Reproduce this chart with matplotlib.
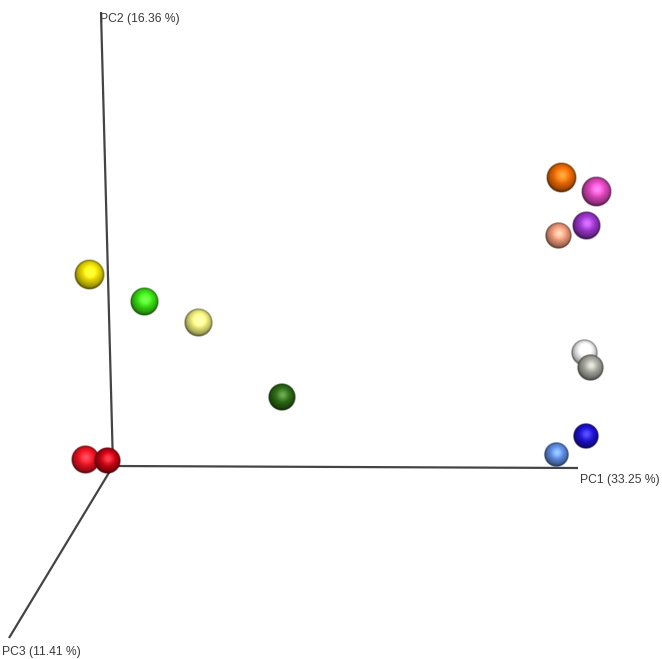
import numpy as np
import matplotlib
matplotlib.use("Agg")
import matplotlib.pyplot as plt
from matplotlib.colors import to_rgb

# Projected sample positions (screen coordinates)
names = ["yellow", "green", "lightyellow", "darkgreen", "red1", "red2",
         "orange", "pink", "purple", "salmon", "white", "gray", "blue", "lightblue"]
px = [89, 144, 198, 282, 85, 107, 561, 596, 586, 558, 584, 590, 586, 556]
py = [275, 302, 323, 397, 460, 461, 178, 192, 226, 236, 353, 368, 436, 455]
radius = [15, 14, 14, 13.5, 14, 13, 15, 15, 14, 13, 13, 13, 12.5, 12]
colors = ["#ecdc00", "#38e010", "#f2f07c", "#2b6a12", "#ee1020", "#c80010",
          "#ee6a00", "#dd44bb", "#9a33cc", "#f09a7a", "#f6f6f6", "#a4a49c",
          "#1c10d0", "#5a8ae0"]

# Axes lines: origin and end points
origin = (113, 466)
pc1_end = (578, 468)
pc2_end = (101, 12)
pc3_end = (9, 638)
axis_labels = ["PC1 (33.25 %)", "PC2 (16.36 %)", "PC3 (11.41 %)"]

fig = plt.figure(figsize=(6.62, 6.59), dpi=100)
ax = fig.add_axes([0, 0, 1, 1])
ax.set_xlim(0, 662)
ax.set_ylim(659, 0)
ax.axis("off")

lc = "#444444"
for end in (pc1_end, pc2_end, pc3_end):
    ax.plot([origin[0], end[0]], [origin[1], end[1]], color=lc, lw=1.6,
            solid_capstyle="butt", zorder=1)

fam = ["Liberation Sans", "DejaVu Sans"]
fs = 8.7
ax.text(pc1_end[0] + 2, pc1_end[1] + 12, axis_labels[0], fontsize=fs,
        color="#3a3a3a", ha="left", va="center", family=fam)
ax.text(pc2_end[0] - 1, pc2_end[1] + 7, axis_labels[1], fontsize=fs,
        color="#3a3a3a", ha="left", va="center", family=fam)
ax.text(pc3_end[0] - 7, pc3_end[1] + 14, axis_labels[2], fontsize=fs,
        color="#3a3a3a", ha="left", va="center", family=fam)


def sphere(ax, cx, cy, r, color, z):
    n = 64
    g = np.linspace(-1.1, 1.1, n)
    X, Y = np.meshgrid(g, g)  # Y positive downward in image
    R = np.sqrt(X ** 2 + Y ** 2)
    Z = np.sqrt(np.clip(1 - R ** 2, 0, 1))
    L = np.array([0.1, -0.3, 0.95])
    L = L / np.linalg.norm(L)
    diff = np.clip(X * L[0] + Y * L[1] + Z * L[2], 0, 1)
    H = L + np.array([0, 0, 1.0])
    H = H / np.linalg.norm(H)
    spec = np.clip(X * H[0] + Y * H[1] + Z * H[2], 0, 1) ** 12
    base = np.array(to_rgb(color))
    shade = 0.45 + 0.6 * diff
    rgb = base[None, None, :] * shade[..., None] + 0.25 * spec[..., None]
    # soft dark rim
    rim = np.clip((R - 0.85) / 0.15, 0, 1)
    rgb = rgb * (1 - 0.35 * rim[..., None])
    rgb = np.clip(rgb, 0, 1)
    alpha = np.clip((1 - R) * r * 1.1 + 0.5, 0, 1)
    img = np.dstack([rgb, alpha])
    e = r * 1.1
    ax.imshow(img, extent=(cx - e, cx + e, cy + e, cy - e), interpolation="bilinear",
              zorder=z)


# draw back-to-front
order = [0, 1, 2, 3, 4, 5, 6, 7, 9, 8, 10, 11, 12, 13]
for k, i in enumerate(order):
    sphere(ax, px[i], py[i], radius[i], colors[i], 2 + k)

ax.set_xlim(0, 662)
ax.set_ylim(659, 0)
fig.savefig("out.png", dpi=100)
